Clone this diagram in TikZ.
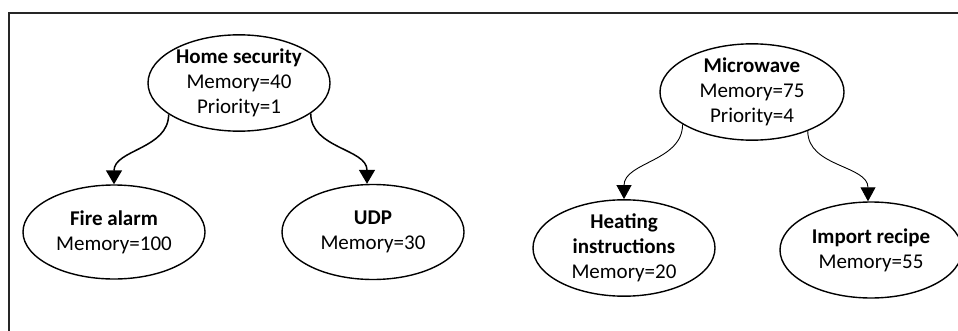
\documentclass[tikz,border=0pt]{standalone}
\usepackage{fontspec}
\setmainfont{Carlito}
\usetikzlibrary{shapes.geometric,arrows.meta}
\tikzset{
  task/.style={draw, ellipse, line width=1.4pt, inner sep=0pt, align=center,
    font=\fontsize{21}{25}\selectfont},
  conn/.style={line width=1.5pt, -{Triangle[length=14pt,width=16pt]}},
  thinconn/.style={line width=0.9pt, -{Triangle[length=14pt,width=15pt]}},
}
\begin{document}
\begin{tikzpicture}[x=1pt,y=1pt]
\useasboundingbox (0,0) rectangle (958,330);
\clip (0,0) rectangle (958,330);
\fill[white] (0,0) rectangle (958,330);
\coordinate (fbl) at (9,-2);
\coordinate (ftl) at (9,317);
\coordinate (ftr) at (960,317);
\draw[line width=1.6pt, black!85] (fbl) -- (ftl) -- (ftr);

\node[task, minimum width=182pt, minimum height=92pt] (hs) at (239,247)
  {\textbf{Home security}\\Memory=40\\Priority=1};
\node[task, minimum width=182pt, minimum height=94pt] (fa) at (114,98)
  {\textbf{Fire alarm}\\Memory=100};
\node[task, minimum width=182pt, minimum height=95pt] (udp) at (373,98)
  {\textbf{UDP}\\Memory=30};
\node[task, minimum width=184pt, minimum height=96pt] (mw) at (752,238)
  {\textbf{Microwave}\\Memory=75\\Priority=4};
\node[task, minimum width=182pt, minimum height=96pt] (hi) at (624,82)
  {\textbf{Heating}\\\textbf{instructions}\\Memory=20};
\node[task, minimum width=182pt, minimum height=96pt] (ir) at (871,80)
  {\textbf{Import recipe}\\Memory=55};

\draw[conn] (hs.204) to[out=-90,in=90] (fa.north);
\draw[conn] (hs.337) to[out=-90,in=90] ([xshift=-6pt]udp.north);
\draw[thinconn] (mw.205) to[out=-90,in=90] (hi.north);
\draw[thinconn] (mw.325) to[out=-90,in=90] ([xshift=-3pt]ir.north);
\end{tikzpicture}
\end{document}
